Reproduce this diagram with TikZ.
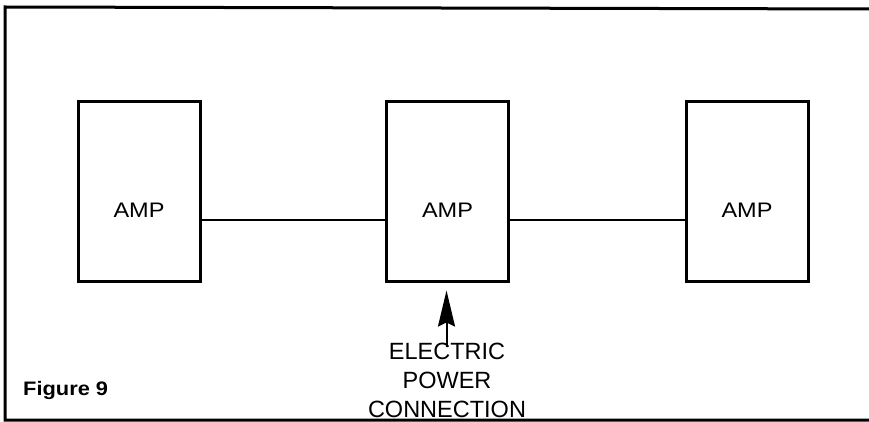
\documentclass[tikz,border=0pt]{standalone}
\usepackage{fontspec}
\setmainfont{Liberation Sans}
\usetikzlibrary{arrows.meta}
\begin{document}
\begin{tikzpicture}[x=1pt,y=-1pt,
  ampbox/.style={draw, line width=3pt, minimum width=122pt, minimum height=179pt, inner sep=0pt},
  amptext/.style={inner sep=0pt, font=\fontsize{21}{24}\selectfont},
  wire/.style={line width=2pt},
  frameline/.style={line width=3pt},
  powertext/.style={align=center, inner sep=0pt, font=\fontsize{23.5}{29}\selectfont},
  figlabel/.style={anchor=base west, inner sep=0pt, font=\fontsize{19.5}{22}\selectfont\bfseries}]
\useasboundingbox (0,0) rectangle (869,422);
% frame
\coordinate (ftr) at (875,9);
\coordinate (ftl) at (5,7);
\coordinate (fbl) at (5,420);
\coordinate (fbr) at (875,420);
\draw[frameline] (ftr) -- (ftl) -- (fbl) -- (fbr);
% boxes
\node[ampbox] (a1) at (139,191.5) {};
\node[ampbox] (a2) at (447.5,191.5) {};
\node[ampbox] (a3) at (747,191.5) {};
\node[amptext] (t1) at ([yshift=-18.5pt]a1.center) {\scalebox{1.12}[1]{AMP}};
\node[amptext] (t2) at ([yshift=-18.5pt]a2.center) {\scalebox{1.12}[1]{AMP}};
\node[amptext] (t3) at ([yshift=-18.5pt]a3.center) {\scalebox{1.12}[1]{AMP}};
% connections
\draw[wire] ([yshift=-28.5pt]a1.east) -- ([yshift=-28.5pt]a2.west);
\draw[wire] ([yshift=-28.5pt]a2.east) -- ([yshift=-28.5pt]a3.west);
% power
\node[powertext, anchor=base] (pw) at (447,417) {ELECTRIC\\POWER\\CONNECTION};
\coordinate (tip) at ([yshift=-8pt]a2.south);
\coordinate (tail) at ([yshift=-5pt]tip |- pw.north);
\draw[wire, -{Stealth[length=36pt,width=17pt,inset=4pt]}] ([xshift=-1pt]tail) -- ([xshift=-1pt]tip);
% figure label
\node[figlabel] (fig) at (23,395) {\scalebox{1.12}[1]{Figure 9}};
\end{tikzpicture}
\end{document}
